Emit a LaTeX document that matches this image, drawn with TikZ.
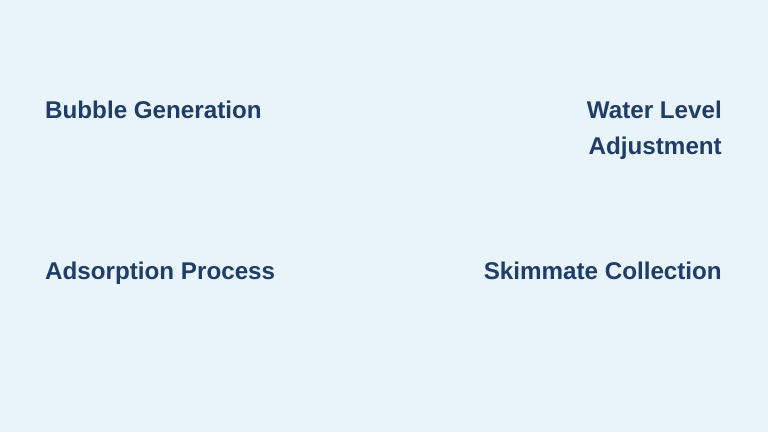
\documentclass[tikz,border=0pt]{standalone}
\usepackage{fontspec}
\setmainfont{Liberation Sans}
\definecolor{bgc}{HTML}{E8F4F9}
\definecolor{txc}{HTML}{1F3D66}
\begin{document}
\begin{tikzpicture}[x=1pt,y=1pt,
  lbl/.style={inner sep=0pt, text=txc, font=\fontsize{24.2}{35.5}\selectfont\bfseries}]
\fill[bgc] (0,0) rectangle (768,432);
\useasboundingbox (0,0) rectangle (768,432);
\node[lbl, anchor=base west] (bubble) at (45,313.3) {Bubble Generation};
\node[lbl, anchor=base east, align=right] (water) at (722,277.8) {Water Level\\Adjustment};
\node[lbl, anchor=base west] (adsorp) at (45,152.8) {Adsorption Process};
\node[lbl, anchor=base east] (skim) at (722,152.8) {Skimmate Collection};
\end{tikzpicture}
\end{document}
